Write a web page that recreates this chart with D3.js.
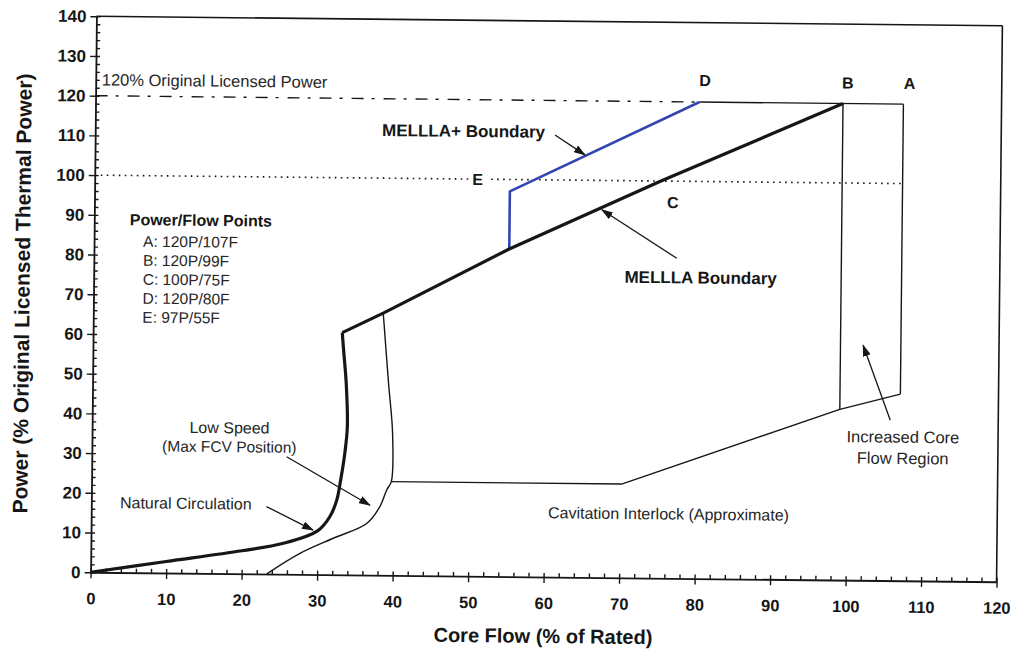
<!DOCTYPE html>
<html><head><meta charset="utf-8">
<script src="https://cdn.jsdelivr.net/npm/d3@7"></script>
<style>body{margin:0;background:#fff}</style>
</head><body>
<svg id="c" width="1015" height="652"></svg>
<script>
// ---- data ----
const xTicks = [0,10,20,30,40,50,60,70,80,90,100,110,120];
const yTicks = [0,10,20,30,40,50,60,70,80,90,100,110,120,130,140];
const pointNames = ['A','B','C','D','E'];
const pointPower = [120,120,100,120,97];
const pointFlow  = [107,99,75,80,55];
const naturalCirculation = [[0,0],[10,2.9],[20,5.8],[25.5,7.8],[30,11],[31.6,14.6],[32.5,18.8],[33,24],[33.5,30.6],[33.8,37.3],[33.6,48],[33.2,56.6],[33,61]];
const melllaBoundary = [[33,61],[38.4,66],[55,82.5],[75,100],[99,120]];
const melllaPlusBoundary = [[55,82.5],[55,97],[80,120]];
const lowSpeedMaxFCV = [[23.3,0],[27.7,5.3],[32.1,9.2],[36.5,13],[38.2,17.2],[39.1,21.5],[39.7,23.6],[39.8,35.8],[39.2,48.3],[38.4,66]];
const cavitationInterlock = [[39.7,23.6],[70.2,23.6],[99,43],[107,47]];
const lineB = [[99,43],[99,120]];
const lineA = [[107,47],[107,120]];
const topLine = [[80,120],[107,120]];
const line120 = [[0,120],[80,120]];
const line100a = [[0,100],[49.5,100]];
const line100b = [[52.5,100],[107,100]];

// ---- layout ----
const W=1015,H=652;
const L=93.5,R=999.5,T=21,B=577;
const x=d3.scaleLinear().domain([0,120]).range([L,R]);
const y=d3.scaleLinear().domain([0,140]).range([B,T]);
const FONT="'Liberation Sans', Arial, sans-serif";
const INK="#161616";

const svg=d3.select('#c');
svg.append('rect').attr('width',W).attr('height',H).attr('fill','#fff');
const defs=svg.append('defs');
defs.append('marker').attr('id','arr').attr('markerUnits','userSpaceOnUse')
  .attr('markerWidth',12).attr('markerHeight',8).attr('refX',11).attr('refY',4)
  .attr('orient','auto')
  .append('path').attr('d','M0,0 L12,4 L0,8 Z').attr('fill',INK);

const g=svg.append('g').attr('transform','rotate(0.6,546.5,299)')
  .style('font-family',FONT);

// frame top & right
g.append('line').attr('x1',x(0)).attr('x2',x(120)).attr('y1',y(140)).attr('y2',y(140))
  .attr('stroke',INK).attr('stroke-width',1.6);
g.append('line').attr('x1',x(120)).attr('x2',x(120)).attr('y1',y(140)).attr('y2',y(0))
  .attr('stroke',INK).attr('stroke-width',1.6);

// axes
const minorX=d3.range(0,121,2).filter(v=>v%10!==0);
const minorY=d3.range(0,141,2).filter(v=>v%10!==0);

const gx=g.append('g').attr('transform',`translate(0,${B})`);
gx.append('g').call(d3.axisBottom(x).tickValues(minorX).tickSize(-4).tickFormat('').tickSizeOuter(0))
  .call(s=>s.select('.domain').remove());
gx.append('g').call(d3.axisBottom(x).tickValues(xTicks).tickSize(-4).tickFormat('').tickSizeOuter(0))
  .call(s=>s.select('.domain').remove());
gx.append('g').call(d3.axisBottom(x).tickValues(xTicks).tickSize(6).tickSizeOuter(0))
  .call(s=>s.selectAll('text').attr('y',32).attr('dy',0)
     .style('font-family',FONT).style('font-size','16.5px').style('font-weight','bold').attr('fill',INK));
gx.selectAll('line').attr('stroke',INK).attr('stroke-width',1.4);
gx.selectAll('.domain').attr('stroke',INK).attr('stroke-width',1.8);

const gy=g.append('g').attr('transform',`translate(${L},0)`);
gy.append('g').call(d3.axisLeft(y).tickValues(minorY).tickSize(-4).tickFormat('').tickSizeOuter(0))
  .call(s=>s.select('.domain').remove());
gy.append('g').call(d3.axisLeft(y).tickValues(yTicks).tickSize(-4).tickFormat('').tickSizeOuter(0))
  .call(s=>s.select('.domain').remove());
gy.append('g').call(d3.axisLeft(y).tickValues(yTicks).tickSize(6).tickPadding(4).tickSizeOuter(0))
  .call(s=>s.selectAll('text').style('font-family',FONT).style('font-size','17px')
     .style('font-weight','bold').attr('fill',INK));
gy.selectAll('line').attr('stroke',INK).attr('stroke-width',1.4);
gy.selectAll('.domain').attr('stroke',INK).attr('stroke-width',1.8);

// axis titles
g.append('text').attr('x',(L+R)/2).attr('y',B+66).attr('text-anchor','middle')
  .style('font-size','20px').style('font-weight','bold').attr('fill',INK)
  .text('Core Flow (% of Rated)');
g.append('text').attr('transform',`translate(${L-64},${(T+B)/2}) rotate(-90)`)
  .attr('text-anchor','middle')
  .style('font-size','21px').style('font-weight','bold').attr('fill',INK)
  .text('Power (% Original Licensed Thermal Power)');

// lines
const line=d3.line().x(d=>x(d[0])).y(d=>y(d[1]));
const smooth=d3.line().x(d=>x(d[0])).y(d=>y(d[1])).curve(d3.curveCatmullRom.alpha(0.5));
function path(data,gen,w,col,dash){
  const p=g.append('path').datum(data).attr('d',gen).attr('fill','none')
    .attr('stroke',col).attr('stroke-width',w).attr('stroke-linejoin','round').attr('stroke-linecap','butt');
  if(dash) p.attr('stroke-dasharray',dash);
  return p;
}
path(line120,line,1.4,INK,'12,8,3,9');
path(line100a,line,1.6,INK,'1.6,4.4');
path(line100b,line,1.6,INK,'1.6,4.4');
path(cavitationInterlock,line,1.4,INK);
path(lineB,line,1.4,INK);
path(lineA,line,1.4,INK);
path(topLine,line,1.4,INK);
path(lowSpeedMaxFCV,smooth,1.4,INK);
path(melllaPlusBoundary,line,2.6,'#3345b0');
path(naturalCirculation,smooth,3.2,INK);
path(melllaBoundary,line,3.2,INK);

// arrows (annotation positions in data units)
const arrows=[
  {from:[60.9,111.3],to:[64.9,106.4]},
  {from:[77.2,80.6],to:[67.2,92.6]},
  {from:[23.2,17.0],to:[29.4,11.2]},
  {from:[25.8,29.6],to:[36.9,17.6]},
  {from:[105.7,40.4],to:[102.0,59.2]}
];
arrows.forEach(a=>{
  g.append('line').attr('x1',x(a.from[0])).attr('y1',y(a.from[1]))
    .attr('x2',x(a.to[0])).attr('y2',y(a.to[1]))
    .attr('stroke',INK).attr('stroke-width',1.3).attr('marker-end','url(#arr)');
});

// text annotations
function txt(X,Y,s,size,bold,anchor){
  return g.append('text').attr('x',x(X)).attr('y',y(Y)).attr('text-anchor',anchor||'start')
    .style('font-size',size+'px').style('font-weight',bold?'bold':'normal')
    .attr('fill',bold?INK:'#262626').text(s);
}
txt(0.8,122.6,'120% Original Licensed Power',16.5,false);
const letterPos={A:[107.8,123.8],B:[99.6,123.8],C:[76.6,93.2],D:[80.7,124],E:[50.7,98.5]};
pointNames.forEach(n=>txt(letterPos[n][0],letterPos[n][1],n,16,true,'middle'));
txt(38.0,110.6,'MELLLA+ Boundary',17,true);
txt(70.3,74.3,'MELLLA Boundary',17,true);
txt(4.7,87.5,'Power/Flow Points',16,true);
pointNames.forEach((n,i)=>{
  txt(6.5,82.1-4.78*i,`${n}: ${pointPower[i]}P/${pointFlow[i]}F`,15.5,false);
});
txt(18.2,35.35,'Low Speed',16,false,'middle');
txt(18.2,30.6,'(Max FCV Position)',15.5,false,'middle');
txt(3.8,16.2,'Natural Circulation',16,false);
txt(60.5,14.8,'Cavitation Interlock (Approximate)',16,false);
txt(107.4,34.75,'Increased Core',16.5,false,'middle');
txt(107.4,29.4,'Flow Region',16.5,false,'middle');
</script>
</body></html>
